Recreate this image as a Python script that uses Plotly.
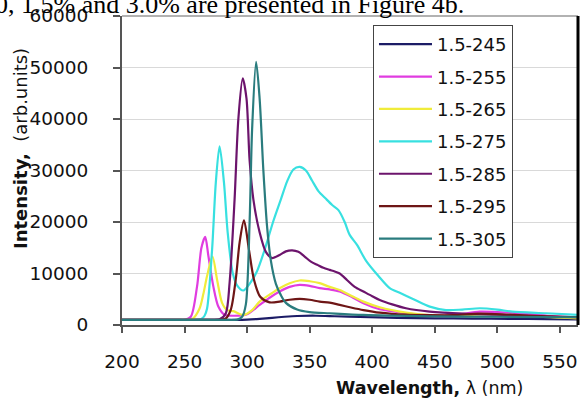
import plotly.graph_objects as go

# ---- data ----
names = ["1.5-245", "1.5-255", "1.5-265", "1.5-275", "1.5-285", "1.5-295", "1.5-305"]
colors = ["#1c1c66", "#e03ce0", "#f0ec3a", "#38e0e0", "#6c146c", "#6e1616", "#2a7c7e"]

wl_245 = [200, 250, 290, 300, 310, 320, 330, 340, 355, 370, 390, 420, 450, 480, 510, 540, 565]
int_245 = [1000, 1000, 1000, 1050, 1200, 1400, 1600, 1750, 1800, 1700, 1550, 1400, 1300, 1250, 1200, 1150, 1100]

wl_255 = [200, 230, 245, 250, 255, 260, 263.5, 266.5, 269, 273, 277, 282, 290, 300, 310, 318, 326, 334, 342,
          350, 358, 366, 374, 384, 393, 406, 427, 446, 465, 486, 500, 512, 540, 565]
int_255 = [1000, 1000, 1000, 1000, 1600, 7500, 15000, 17100, 13500, 7500, 3600, 2000, 1800, 2100, 3900, 5300,
           6500, 7400, 7800, 7600, 7150, 6900, 6500, 5400, 4220, 3050, 2280, 1900, 1900, 2600, 2500, 2400,
           1800, 1500]

wl_265 = [200, 230, 250, 256, 262, 265, 268, 272.3, 276, 280, 284, 289, 297, 304, 310, 318, 326, 334, 342,
          350, 358, 366, 374, 384, 393, 406, 427, 446, 470, 490, 520, 565]
int_265 = [1000, 1000, 1000, 1100, 3200, 6000, 9500, 13300, 8800, 4300, 2900, 2700, 1950, 2900, 4540, 5900,
           7150, 8100, 8640, 8500, 8120, 7400, 6800, 5600, 4540, 3440, 2400, 1900, 1800, 2100, 1700, 1300]

wl_275 = [200, 230, 250, 258, 263, 266, 268, 272, 275, 278, 281.5, 284.5, 288.5, 292, 297, 302, 308, 314,
          321, 327, 332, 337, 342, 347, 352, 357, 363, 368, 373, 378, 382, 388, 395, 405, 414, 422, 433, 446,
          459, 472, 486, 500, 512, 539, 565]
int_275 = [1000, 1000, 1000, 1000, 1100, 1800, 3200, 14600, 27700, 34700, 27700, 17900, 10100, 7700, 6700,
           8000, 10500, 14600, 20200, 24400, 27900, 30200, 30700, 30000, 28000, 26000, 24500, 23300, 22300,
           20000, 17500, 15500, 12500, 9500, 7150, 6240, 5000, 3570, 2900, 3000, 3250, 3000, 2600, 2280, 1950]

wl_285 = [200, 230, 255, 270, 278, 283, 286, 290, 293, 296.5, 299.5, 302, 305, 310, 315, 320, 326, 331, 336,
          341, 346, 351, 356, 361, 366, 370, 374, 380, 386, 393, 400, 406, 416, 427, 446, 473, 500, 530, 565]
int_285 = [1000, 1000, 1000, 1000, 1100, 2300, 8200, 24400, 40000, 47900, 44000, 32000, 24400, 18000, 14200,
           13000, 13600, 14300, 14500, 14200, 13300, 12300, 11700, 11100, 10700, 10400, 10000, 8700, 7400,
           6500, 5600, 4870, 4000, 3250, 2600, 2200, 2000, 1700, 1500]

wl_295 = [200, 230, 255, 272, 280, 283, 287, 291, 294, 297.5, 301.5, 305.5, 310.5, 318, 326, 334, 342, 350,
          358, 366, 374, 383, 393, 406, 427, 446, 465, 486, 510, 540, 565]
int_295 = [1000, 1000, 1000, 1000, 1050, 1300, 3000, 9000, 16000, 20300, 14600, 8800, 5500, 4400, 4540,
           4900, 5070, 4900, 4540, 4350, 3900, 3400, 2900, 2400, 2000, 1900, 1900, 2200, 2000, 1700, 1500]

wl_305 = [200, 230, 260, 280, 292, 296, 299, 302, 304, 307.2, 310, 313, 316, 319, 323, 327, 331, 340, 350,
          366, 393, 446, 500, 565]
int_305 = [1000, 1000, 1000, 1000, 1050, 1600, 4000, 20000, 38000, 51100, 44000, 30000, 19000, 12500, 8000,
           5800, 4300, 3000, 2500, 2280, 1950, 1700, 1600, 1500]

x_ticks = [200, 250, 300, 350, 400, 450, 500, 550]
y_ticks = [0, 10000, 20000, 30000, 40000, 50000, 60000]

series_x = [wl_245, wl_255, wl_265, wl_275, wl_285, wl_295, wl_305]
series_y = [int_245, int_255, int_265, int_275, int_285, int_295, int_305]

FONT = "DejaVu Sans"

fig = go.Figure()
for nm, col, xs, ys in zip(names, colors, series_x, series_y):
    fig.add_trace(go.Scatter(
        x=xs, y=ys, name=nm, mode="lines", legendgroup=nm,
        line=dict(color=col, width=2.2, shape="spline", smoothing=0.8),
    ))

fig.update_layout(
    width=580, height=405,
    margin=dict(l=122, r=2, t=16, b=80, autoexpand=False),
    paper_bgcolor="white", plot_bgcolor="white",
    font=dict(family=FONT, size=18.5, color="#111111"),
    showlegend=True,
    legend=dict(
        x=0.5504, y=0.971, xanchor="left", yanchor="top",
        bgcolor="white", bordercolor="#444444", borderwidth=1,
        font=dict(family=FONT, size=18, color="#111111"),
        tracegroupgap=6, itemwidth=53,
    ),
    xaxis=dict(
        range=[200, 564.5], tickvals=x_ticks, ticktext=[str(v) for v in x_ticks],
        showgrid=False, zeroline=False, automargin=False,
        showline=True, linecolor="#555555", linewidth=2,
        ticks="outside", ticklen=6, tickwidth=2, tickcolor="#555555",
        tickfont=dict(family=FONT, size=18.5, color="#111111"),
        ticklabelstandoff=13,
    ),
    yaxis=dict(
        range=[0, 60000], tickvals=y_ticks, ticktext=[str(v) for v in y_ticks],
        showgrid=True, gridcolor="#d9d9d9", gridwidth=1, zeroline=False, automargin=False,
        showline=True, linecolor="#555555", linewidth=2,
        ticks="outside", ticklen=7, tickwidth=2, tickcolor="#555555",
        tickfont=dict(family=FONT, size=18.5, color="#111111"),
        ticklabelstandoff=21,
    ),
    shapes=[
        dict(type="line", xref="paper", yref="paper", x0=0, x1=1, y0=1, y1=1,
             line=dict(color="#999999", width=1.5)),
        dict(type="line", xref="paper", yref="paper", x0=1, x1=1, y0=0, y1=1,
             line=dict(color="#000000", width=3)),
    ],
    annotations=[
        dict(text="<b>Wavelength,</b> λ (nm)", xref="paper", yref="paper", x=0.6754, y=-0.2039,
             xanchor="center", yanchor="middle", showarrow=False,
             font=dict(family=FONT, size=17.5, color="#111111")),
        dict(text="<b>Intensity,</b>&nbsp; (arb.units)", xref="paper", yref="paper", x=-0.2237, y=0.5728,
             xanchor="center", yanchor="middle", showarrow=False, textangle=-90,
             font=dict(family=FONT, size=18, color="#111111")),
        dict(text="0, 1.5% and 3.0% are presented in Figure 4b.", xref="paper", yref="paper",
             x=-0.2829, y=1.036, xanchor="left", yanchor="middle", showarrow=False,
             font=dict(family="Liberation Serif", size=26, color="#000000")),
    ],
)

fig.write_html("out.html", config={"displayModeBar": False},
               post_script="document.body.style.margin='0';")
